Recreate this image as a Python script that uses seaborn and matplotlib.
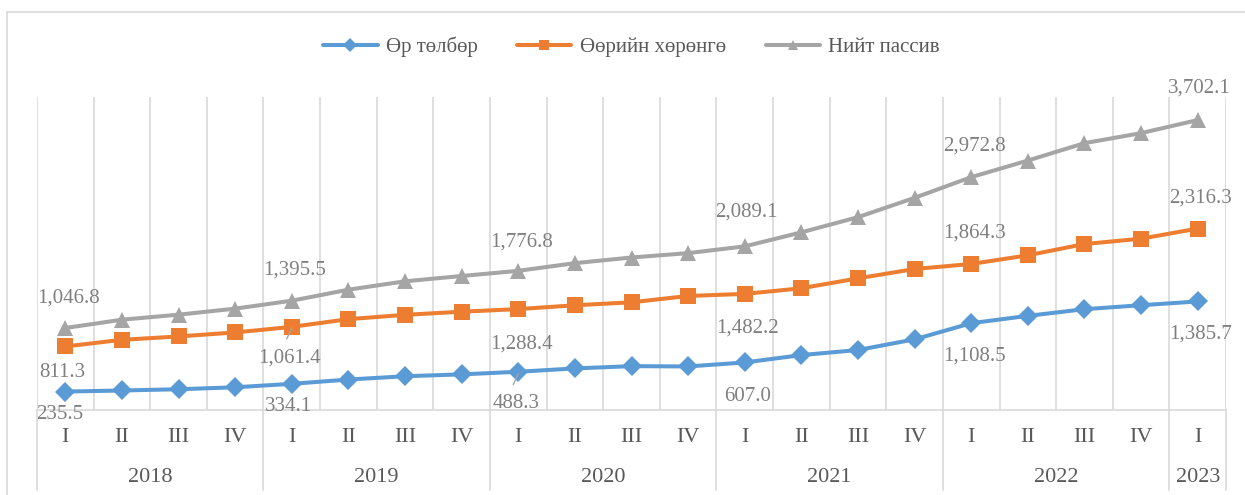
import numpy as np
import pandas as pd
import matplotlib
matplotlib.use('Agg')
import matplotlib.pyplot as plt
import seaborn as sns
from matplotlib.lines import Line2D

# data (billion, quarterly)
quarters = ['I', 'II', 'III', 'IV'] * 5 + ['I']
years = ['2018', '2019', '2020', '2021', '2022', '2023']
debt = [235.5, 249, 265, 290, 334.1, 389, 431, 455, 488.3, 531, 560, 556, 607.0,
        701, 766, 902, 1108.5, 1202, 1287, 1338, 1385.7]
equity = [811.3, 896, 939, 990, 1061.4, 1160, 1215, 1255, 1288.4, 1337, 1375, 1456, 1482.2,
          1554, 1681, 1800, 1864.3, 1975, 2119, 2187, 2316.3]
total = [1046.8, 1153, 1217, 1294, 1395.5, 1536, 1643, 1711, 1776.8, 1875, 1947, 2003, 2089.1,
         2268, 2462, 2709, 2972.8, 3185, 3407, 3535, 3702.1]
names = ['Өр төлбөр', 'Өөрийн хөрөнгө', 'Нийт пассив']

x = np.arange(len(quarters))
df = pd.DataFrame({'x': x, names[0]: debt, names[1]: equity, names[2]: total})

sns.set_style('white')
plt.rcParams['font.family'] = ['Liberation Serif', 'DejaVu Serif']

fig = plt.figure(figsize=(12.45, 4.95), dpi=100)
ax = fig.add_axes([37/1245, 1-410/495, (1226-37)/1245, (410-96.7)/495])

colors = ['#5b9bd5', '#ed7d31', '#a5a5a5']
markers = ['D', 's', '^']
msizes = [10.5, 12, 12]
for name, c, m, ms in zip(names, colors, markers, msizes):
    sns.lineplot(data=df, x='x', y=name, ax=ax, color=c, marker=m, markersize=ms,
                 markeredgewidth=0, linewidth=2.9, label=name)

ax.set_xlim(-0.5, 20.5)
ax.set_ylim(0, 4000)
ax.set_yticks([])
ax.set_xticks([])
ax.set_xlabel('')
ax.set_ylabel('')
for s in ['top', 'right', 'left']:
    ax.spines[s].set_visible(False)
ax.spines['bottom'].set_color('#d9d9d9')
ax.spines['bottom'].set_linewidth(1.2)

# vertical gridlines between categories
for b in np.arange(-0.5, 21, 1):
    ax.axvline(b, color='#d9d9d9', linewidth=1.2, zorder=0)

# multi-level category axis
trans = ax.get_xaxis_transform()
h = 410 - 96.7
for i, q in enumerate(quarters):
    ax.text(i, -27/h, q, transform=trans, ha='center', va='center', fontsize=16, color='#595959')
year_centers = [1.5, 5.5, 9.5, 13.5, 17.5, 20]
for xc, yr in zip(year_centers, years):
    ax.text(xc, -67/h, yr, transform=trans, ha='center', va='center', fontsize=16, color='#595959')
for b in [-0.5, 3.5, 7.5, 11.5, 15.5, 19.5, 20.5]:
    ax.plot([b, b], [0, -80/h], transform=trans, color='#d9d9d9', linewidth=1.2, clip_on=False)

# data labels: (series, index, dx px, dy px) ; dy positive = downward
px = 0.72
labels = [
    (total, 0, 3, -30), (equity, 0, -3, 26), (debt, 0, -6, 23),
    (total, 4, 3, -31), (equity, 4, -2, 31), (debt, 4, -3, 23),
    (total, 8, 3, -29), (equity, 8, 3, 35), (debt, 8, -2, 32),
    (total, 12, 2, -34), (equity, 12, 3, 34), (debt, 12, 3, 34),
    (total, 16, 3, -31), (equity, 16, 3, -31), (debt, 16, 3, 33),
    (total, 20, 2, -32), (equity, 20, 3, -31), (debt, 20, 3, 33),
]
for ser, i, dx, dy in labels:
    ax.annotate(f'{ser[i]:,.1f}', xy=(i, ser[i]), xytext=(dx*px, -dy*px),
                textcoords='offset points', ha='center', va='center',
                fontsize=15, color='#7f7f7f')

# leader lines from label to point
for ser, i, p1, p2 in [(equity, 4, (-5, 12), (0, 1)), (debt, 8, (-5, 13), (0, 2))]:
    x0, y0 = ax.transData.transform((i, ser[i]))
    fig.add_artist(Line2D([(x0+p1[0])/1245, (x0+p2[0])/1245],
                          [(y0-p1[1])/495, (y0-p2[1])/495],
                          color='#a6a6a6', linewidth=1))

leg = ax.legend(loc='center', bbox_to_anchor=(631.5/1245, 1-47/495),
                bbox_transform=fig.transFigure, ncol=3, frameon=False,
                fontsize=15, handlelength=2.6, handletextpad=0.4, columnspacing=1.9,
                markerscale=0.65)
for t in leg.get_texts():
    t.set_color('#595959')

# chart area border
fig.add_artist(Line2D([7/1245, 7/1245], [0, 1-12/495], color='#d9d9d9', linewidth=1.2))
fig.add_artist(Line2D([7/1245, 1], [1-12/495, 1-12/495], color='#d9d9d9', linewidth=1.2))

fig.savefig('out.png', dpi=100)
